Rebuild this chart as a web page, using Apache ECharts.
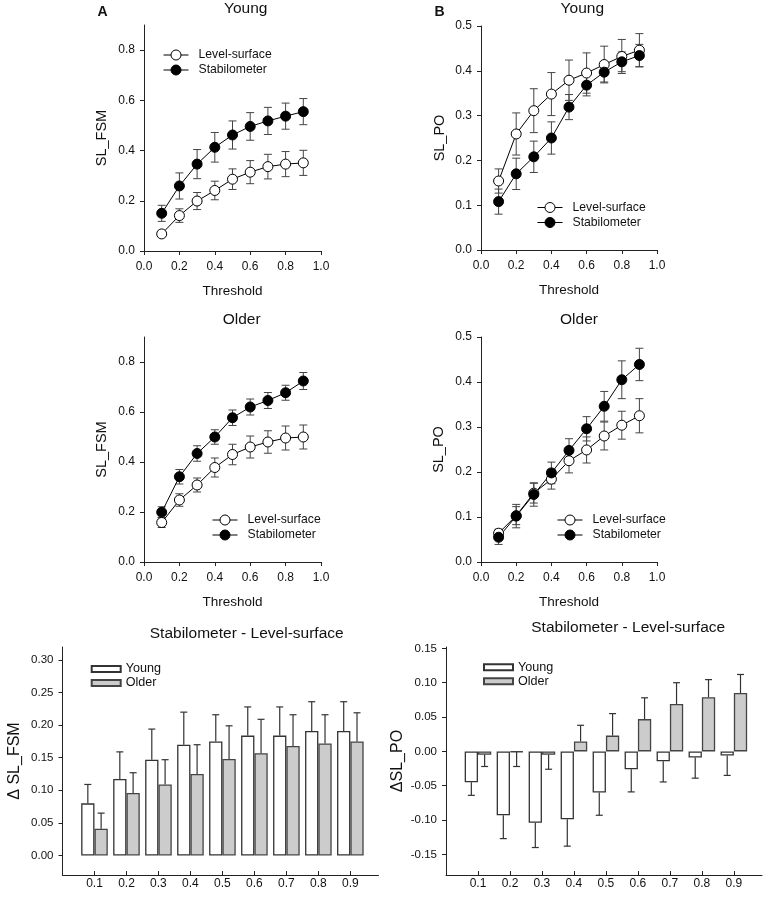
<!DOCTYPE html>
<html>
<head>
<meta charset="utf-8">
<script src="https://cdn.jsdelivr.net/npm/echarts@6/dist/echarts.min.js"></script>
<style>
html,body{margin:0;padding:0;background:#fff;}
#chart{width:768px;height:898px;}
</style>
</head>
<body>
<div id="chart"></div>
<script>
// ---------- data ----------
const thresholds = [0.1, 0.2, 0.3, 0.4, 0.5, 0.6, 0.7, 0.8, 0.9];
const xTicks = [0, 0.2, 0.4, 0.6, 0.8, 1.0];
const fsmTicks = [0, 0.2, 0.4, 0.6, 0.8];
const poTicks = [0, 0.1, 0.2, 0.3, 0.4, 0.5];
const dFsmTicks = [0, 0.05, 0.10, 0.15, 0.20, 0.25, 0.30];
const dPoTicks = [-0.15, -0.10, -0.05, 0, 0.05, 0.10, 0.15];

// Panel A (SL_FSM) - Young
const fsmYoungLevel    = [0.068, 0.141, 0.199, 0.241, 0.286, 0.314, 0.336, 0.346, 0.351];
const fsmYoungLevelSE  = [0.010, 0.027, 0.034, 0.037, 0.041, 0.046, 0.049, 0.050, 0.050];
const fsmYoungStab     = [0.150, 0.259, 0.346, 0.413, 0.462, 0.496, 0.518, 0.537, 0.555];
const fsmYoungStabSE   = [0.032, 0.052, 0.058, 0.059, 0.056, 0.055, 0.054, 0.052, 0.052];
// Panel A (SL_FSM) - Older
const fsmOlderLevel    = [0.158, 0.248, 0.308, 0.378, 0.430, 0.460, 0.480, 0.496, 0.500];
const fsmOlderLevelSE  = [0.020, 0.025, 0.028, 0.038, 0.041, 0.044, 0.045, 0.048, 0.048];
const fsmOlderStab     = [0.199, 0.341, 0.434, 0.500, 0.577, 0.620, 0.646, 0.677, 0.724];
const fsmOlderStabSE   = [0.022, 0.029, 0.031, 0.029, 0.031, 0.032, 0.032, 0.030, 0.034];
// Panel B (SL_PO) - Young
const poYoungLevel     = [0.154, 0.259, 0.311, 0.348, 0.379, 0.395, 0.414, 0.432, 0.446];
const poYoungLevelSE   = [0.027, 0.047, 0.049, 0.048, 0.045, 0.045, 0.041, 0.038, 0.037];
const poYoungStab      = [0.108, 0.170, 0.208, 0.250, 0.319, 0.368, 0.397, 0.420, 0.434];
const poYoungStabSE    = [0.028, 0.035, 0.035, 0.036, 0.028, 0.024, 0.022, 0.022, 0.025];
// Panel B (SL_PO) - Older
const poOlderLevel     = [0.064, 0.103, 0.153, 0.184, 0.225, 0.249, 0.280, 0.304, 0.325];
const poOlderLevelSE   = [0.009, 0.020, 0.022, 0.022, 0.027, 0.029, 0.031, 0.031, 0.038];
const poOlderStab      = [0.055, 0.102, 0.150, 0.198, 0.248, 0.296, 0.346, 0.405, 0.439];
const poOlderStabSE    = [0.016, 0.026, 0.026, 0.024, 0.026, 0.027, 0.033, 0.042, 0.036];
// Differences (Stabilometer - Level-surface)
const dFsmYoung   = [0.080, 0.1175, 0.147, 0.170, 0.175, 0.184, 0.184, 0.191, 0.191];
const dFsmYoungSE = [0.029, 0.0415, 0.047, 0.050, 0.041, 0.044, 0.044, 0.045, 0.045];
const dFsmOlder   = [0.041, 0.096, 0.109, 0.125, 0.148, 0.157, 0.168, 0.172, 0.175];
const dFsmOlderSE = [0.024, 0.031, 0.038, 0.045, 0.051, 0.052, 0.048, 0.044, 0.044];
const dPoYoung    = [-0.045, -0.093, -0.104, -0.099, -0.060, -0.026, -0.0145, -0.009, -0.006];
const dPoYoungSE  = [0.019, 0.034, 0.036, 0.039, 0.033, 0.033, 0.030, 0.030, 0.029];
const dPoOlder    = [-0.005, -0.001, -0.005, 0.0145, 0.023, 0.047, 0.069, 0.079, 0.085];
const dPoOlderSE  = [0.017, 0.021, 0.021, 0.0235, 0.032, 0.031, 0.031, 0.0255, 0.027];

// ---------- styling ----------
const FONT = '"Liberation Sans", Arial, sans-serif';
const AX = '#222';
const TXT = '#111';

const grids = [
  {left: 144, top: 25, width: 177, height: 226},
  {left: 481, top: 26, width: 176, height: 224},
  {left: 144, top: 337, width: 177, height: 225},
  {left: 481, top: 337, width: 176, height: 225},
  {left: 62.5, top: 647, width: 316, height: 228},
  {left: 446, top: 647, width: 316, height: 228}
].map(g => Object.assign({outerBoundsMode: 'none', containLabel: false}, g));

function lineX(gi) {
  return {
    type: 'value', gridIndex: gi, min: 0, max: 1, interval: 0.2,
    name: 'Threshold', nameLocation: 'middle', nameGap: 33,
    nameTextStyle: {fontSize: 13.5, color: TXT, fontFamily: FONT},
    axisLine: {onZero: false, lineStyle: {color: AX, width: 1}},
    axisTick: {customValues: xTicks, length: 4, lineStyle: {color: AX}},
    axisLabel: {customValues: xTicks, formatter: v => v.toFixed(1), margin: 10, fontSize: 12, color: TXT, fontFamily: FONT},
    splitLine: {show: false}
  };
}
function lineY(gi, max, ticks, interval, name, gap) {
  return {
    type: 'value', gridIndex: gi, min: 0, max: max, interval: interval,
    name: name, nameLocation: 'middle', nameGap: gap,
    nameTextStyle: {fontSize: 14.5, color: TXT, fontFamily: FONT},
    axisLine: {show: true, onZero: false, lineStyle: {color: AX, width: 1}},
    axisTick: {show: true, customValues: ticks, length: 4, lineStyle: {color: AX}},
    axisLabel: {customValues: ticks, formatter: v => v.toFixed(1), margin: 9, fontSize: 12, color: TXT, fontFamily: FONT},
    splitLine: {show: false}
  };
}
function barX(gi) {
  return {
    type: 'value', gridIndex: gi, min: 0, max: 0.988,
    axisLine: {onZero: false, lineStyle: {color: AX, width: 1}},
    axisTick: {customValues: thresholds, inside: true, length: 4, lineStyle: {color: AX}},
    axisLabel: {customValues: thresholds, formatter: v => v.toFixed(1), margin: 3, fontSize: 12, color: TXT, fontFamily: FONT},
    splitLine: {show: false}
  };
}
function barY(gi, min, max, ticks, name) {
  return {
    type: 'value', gridIndex: gi, min: min, max: max,
    name: name, nameLocation: 'middle', nameGap: 40,
    nameTextStyle: {fontSize: 16, color: TXT, fontFamily: FONT},
    axisLine: {show: true, onZero: false, lineStyle: {color: AX, width: 1}},
    axisTick: {show: true, customValues: ticks, length: 4, lineStyle: {color: AX}},
    axisLabel: {customValues: ticks, formatter: v => v.toFixed(2), margin: 9, fontSize: 11.5, color: TXT, fontFamily: FONT},
    splitLine: {show: false}
  };
}

const pairs = arr => thresholds.map((t, i) => [t, arr[i]]);
const triples = (m, e) => thresholds.map((t, i) => [t, m[i], e[i]]);

function errLineRender(params, api) {
  const x = api.value(0), m = api.value(1), e = api.value(2);
  const a = api.coord([x, m + e]);
  const b = api.coord([x, m - e]);
  const w = 4;
  const st = {stroke: '#444', lineWidth: 1};
  return {type: 'group', children: [
    {type: 'line', shape: {x1: a[0], y1: a[1], x2: b[0], y2: b[1]}, style: st},
    {type: 'line', shape: {x1: a[0] - w, y1: a[1], x2: a[0] + w, y2: a[1]}, style: st},
    {type: 'line', shape: {x1: b[0] - w, y1: b[1], x2: b[0] + w, y2: b[1]}, style: st}
  ]};
}
function makeBarErrRender(dx) {
  return function (params, api) {
    const x = api.value(0), m = api.value(1), e = api.value(2);
    const s = m < 0 ? -1 : 1;
    const a = api.coord([x, m]);
    const b = api.coord([x, m + s * e]);
    const w = 3.5;
    const st = {stroke: '#333', lineWidth: 1.2};
    return {type: 'group', children: [
      {type: 'line', shape: {x1: a[0] + dx, y1: a[1], x2: b[0] + dx, y2: b[1]}, style: st},
      {type: 'line', shape: {x1: b[0] + dx - w, y1: b[1], x2: b[0] + dx + w, y2: b[1]}, style: st}
    ]};
  };
}

const series = [];
function addLinePanel(gi, level, levelSE, stab, stabSE) {
  series.push({type: 'custom', xAxisIndex: gi, yAxisIndex: gi, z: 1, renderItem: errLineRender, data: triples(level, levelSE), silent: true});
  series.push({type: 'custom', xAxisIndex: gi, yAxisIndex: gi, z: 1, renderItem: errLineRender, data: triples(stab, stabSE), silent: true});
  series.push({name: 'Level-surface', type: 'line', xAxisIndex: gi, yAxisIndex: gi, z: 3,
    data: pairs(level), symbol: 'circle', symbolSize: 10, color: '#000',
    lineStyle: {color: '#000', width: 1}, itemStyle: {color: '#fff', borderColor: '#000', borderWidth: 1}, animation: false});
  series.push({name: 'Stabilometer', type: 'line', xAxisIndex: gi, yAxisIndex: gi, z: 3,
    data: pairs(stab), symbol: 'circle', symbolSize: 10, color: '#000',
    lineStyle: {color: '#000', width: 1}, itemStyle: {color: '#000', borderColor: '#000', borderWidth: 1}, animation: false});
}
addLinePanel(0, fsmYoungLevel, fsmYoungLevelSE, fsmYoungStab, fsmYoungStabSE);
addLinePanel(1, poYoungLevel, poYoungLevelSE, poYoungStab, poYoungStabSE);
addLinePanel(2, fsmOlderLevel, fsmOlderLevelSE, fsmOlderStab, fsmOlderStabSE);
addLinePanel(3, poOlderLevel, poOlderLevelSE, poOlderStab, poOlderStabSE);

const BW = 13.3;
function addBarPanel(gi, young, youngSE, older, olderSE) {
  series.push({name: 'Young', type: 'bar', xAxisIndex: gi, yAxisIndex: gi, data: pairs(young),
    barWidth: BW, barGap: '0%', itemStyle: {color: '#fff', borderColor: '#333', borderWidth: 1.3}, animation: false});
  series.push({name: 'Older', type: 'bar', xAxisIndex: gi, yAxisIndex: gi, data: pairs(older),
    barWidth: BW, barGap: '0%', itemStyle: {color: '#cccccc', borderColor: '#444', borderWidth: 1.3}, animation: false});
  series.push({type: 'custom', xAxisIndex: gi, yAxisIndex: gi, z: 4, renderItem: makeBarErrRender(-BW / 2), data: triples(young, youngSE), silent: true});
  series.push({type: 'custom', xAxisIndex: gi, yAxisIndex: gi, z: 4, renderItem: makeBarErrRender(BW / 2), data: triples(older, olderSE), silent: true});
}
addBarPanel(4, dFsmYoung, dFsmYoungSE, dFsmOlder, dFsmOlderSE);
addBarPanel(5, dPoYoung, dPoYoungSE, dPoOlder, dPoOlderSE);

function lineLegend(left, top) {
  return {data: ['Level-surface', 'Stabilometer'], orient: 'vertical', left: left, top: top,
    itemWidth: 25, itemHeight: 12.5, itemGap: 0, selectedMode: false, padding: 0,
    lineStyle: {width: 1, color: '#000'},
    itemStyle: {borderWidth: 1, borderColor: '#000'},
    textStyle: {fontSize: 12.2, color: TXT, fontFamily: FONT, lineHeight: 15, padding: [0, 0, 0, 5]}};
}
function barLegend(left, top) {
  return {data: ['Young', 'Older'], orient: 'vertical', left: left, top: top,
    icon: 'rect', itemWidth: 29, itemHeight: 6, itemGap: 0, selectedMode: false, padding: 0,
    textStyle: {fontSize: 12.6, color: TXT, fontFamily: FONT, lineHeight: 14}};
}

function txt(x, y, s, size, bold) {
  return {type: 'text', x: x, y: y, style: {text: s, fontSize: size, fontWeight: bold ? 'bold' : 'normal',
    fontFamily: FONT, fill: TXT, textAlign: 'center', textVerticalAlign: 'middle'}};
}

const option = {
  backgroundColor: '#fff',
  animation: false,
  grid: grids,
  xAxis: [lineX(0), lineX(1), lineX(2), lineX(3), barX(4), barX(5)],
  yAxis: [
    lineY(0, 0.9, fsmTicks, 0.2, 'SL_FSM', 35),
    lineY(1, 0.5, poTicks, 0.1, 'SL_PO', 34),
    lineY(2, 0.9, fsmTicks, 0.2, 'SL_FSM', 35),
    lineY(3, 0.5, poTicks, 0.1, 'SL_PO', 35),
    barY(4, -0.03, 0.32, dFsmTicks, '\u0394 SL_FSM'),
    barY(5, -0.18, 0.152, dPoTicks, '\u0394SL_PO')
  ],
  legend: [
    lineLegend(163, 47.5),
    lineLegend(537, 200),
    lineLegend(212, 512.5),
    lineLegend(557, 512.5),
    barLegend(90.7, 662),
    barLegend(483, 660.3)
  ],
  graphic: [
    txt(102.5, 12.5, 'A', 14, true),
    txt(439.5, 12, 'B', 14, true),
    txt(245.7, 9, 'Young', 15.5),
    txt(582.3, 9, 'Young', 15.5),
    txt(241.7, 320, 'Older', 15.5),
    txt(579, 320, 'Older', 15.5),
    txt(246.7, 634, 'Stabilometer - Level-surface', 15.5),
    txt(628.2, 627.5, 'Stabilometer - Level-surface', 15.5)
  ],
  series: series
};

const chart = echarts.init(document.getElementById('chart'), null, {renderer: 'canvas'});
chart.setOption(option);
</script>
</body>
</html>
